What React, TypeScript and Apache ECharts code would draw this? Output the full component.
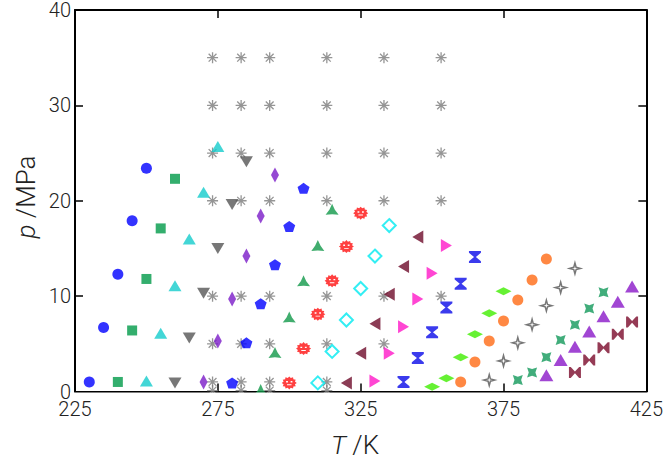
import React, { useEffect, useRef } from "react";
import * as echarts from "echarts";

// ---------- data (T in K, p in MPa) ----------
const xTicks = [225, 275, 325, 375, 425];
const yTicks = [0, 10, 20, 30, 40];

const astT = [273.15, 283.15, 293.15, 313.15, 333.15, 353.15];
const astP273 = [0.1, 1, 5, 10, 20, 25, 30, 35];
const astP283 = [0.1, 1, 5, 10, 20, 25, 30, 35];
const astP293 = [0.1, 1, 5, 10, 20, 25, 30, 35];
const astP313 = [0.1, 1, 5, 10, 20, 25, 30, 35];
const astP333 = [5, 10, 20, 25, 30, 35];
const astP353 = [10, 20, 25, 30, 35];

const blueCircleT = [230, 235, 240, 245, 250];
const blueCircleP = [1.0, 6.7, 12.3, 17.9, 23.4];
const greenSquareT = [240, 245, 250, 255, 260];
const greenSquareP = [1.0, 6.4, 11.8, 17.1, 22.3];
const cyanTriT = [250, 255, 260, 265, 270, 275];
const cyanTriP = [1.1, 6.1, 11.1, 16.0, 20.9, 25.7];
const grayDownT = [260, 265, 270, 275, 280, 285];
const grayDownP = [0.9, 5.6, 10.3, 15.0, 19.6, 24.1];
const purpleDiamondT = [270, 275, 280, 285, 290, 295];
const purpleDiamondP = [1.0, 5.3, 9.7, 14.2, 18.4, 22.7];
const bluePentT = [280, 285, 290, 295, 300, 305];
const bluePentP = [0.9, 5.1, 9.2, 13.3, 17.3, 21.3];
const greenTriT = [290, 295, 300, 305, 310, 315];
const greenTriP = [0.2, 4.1, 7.8, 11.6, 15.3, 19.1];
const redSunT = [300, 305, 310, 315, 320, 325];
const redSunP = [0.9, 4.5, 8.1, 11.6, 15.2, 18.7];
const cyanHollowT = [310, 315, 320, 325, 330, 335];
const cyanHollowP = [0.9, 4.2, 7.5, 10.8, 14.2, 17.4];
const maroonLeftT = [320, 325, 330, 335, 340, 345];
const maroonLeftP = [0.9, 4.0, 7.1, 10.2, 13.1, 16.2];
const magentaRightT = [330, 335, 340, 345, 350, 355];
const magentaRightP = [1.1, 4.0, 6.8, 9.7, 12.4, 15.3];
const blueHourT = [340, 345, 350, 355, 360, 365];
const blueHourP = [1.0, 3.5, 6.2, 8.8, 11.3, 14.1];
const limeDiamondT = [350, 355, 360, 365, 370, 375];
const limeDiamondP = [0.5, 1.4, 3.6, 6.0, 8.2, 10.5];
const orangeCircleT = [360, 365, 370, 375, 380, 385, 390];
const orangeCircleP = [1.0, 3.1, 5.3, 7.4, 9.6, 11.7, 13.9];
const grayStarT = [370, 375, 380, 385, 390, 395, 400];
const grayStarP = [1.2, 3.2, 5.1, 7.0, 9.0, 10.9, 12.9];
const greenStarT = [380, 385, 390, 395, 400, 405, 410];
const greenStarP = [1.2, 2.0, 3.6, 5.4, 7.0, 8.7, 10.4];
const purpleTriT = [390, 395, 400, 405, 410, 415, 420];
const purpleTriP = [1.7, 3.3, 4.7, 6.3, 7.9, 9.4, 11.0];
const maroonBowT = [400, 405, 410, 415, 420];
const maroonBowP = [2.0, 3.3, 4.6, 6.0, 7.3];

// ---------- marker shapes ----------
function starPath(n: number, rOut: number, rIn: number, start: number) {
  let d = "";
  for (let i = 0; i < 2 * n; i++) {
    const r = i % 2 === 0 ? rOut : rIn;
    const a = start + (i * Math.PI) / n;
    d += (i === 0 ? "M" : "L") + (r * Math.cos(a)).toFixed(3) + "," + (r * Math.sin(a)).toFixed(3);
  }
  return d + "Z";
}
function holeRect(x0: number, y0: number, x1: number, y1: number) {
  return `M${x0},${y0}L${x0},${y1}L${x1},${y1}L${x1},${y0}Z`;
}
const SYM_DOWN = "path://M0,0L2,0L1,1.7Z";
const SYM_LEFT = "path://M0,1L1.7,0L1.7,2Z";
const SYM_RIGHT = "path://M0,0L1.7,1L0,2Z";
const SYM_PENT = "path://" + starPath(5, 1, 0.809, -Math.PI / 2);
const SYM_TRI3 = "path://" + starPath(3, 1, 0.42, -Math.PI / 2);
const SYM_SUN =
  "path://" +
  starPath(12, 1, 0.78, -Math.PI / 2) +
  holeRect(-0.42, -0.3, -0.18, -0.08) +
  holeRect(0.18, -0.3, 0.42, -0.08) +
  holeRect(-0.3, 0.22, 0.3, 0.36);
const SYM_HOUR = "path://M0,0L2,0L2,0.3L1.15,1L2,1.7L2,2L0,2L0,1.7L0.85,1L0,0.3Z";
const SYM_BOW = "path://M0,0L0.3,0L1,0.85L1.7,0L2,0L2,2L1.7,2L1,1.15L0.3,2L0,2Z";
const SYM_STAR4 = "path://" + starPath(4, 1, 0.3, -Math.PI / 2);
const SYM_XSTAR = "path://" + starPath(4, 1, 0.47, -Math.PI * 0.75);
const SYM_AST = "path://M0,-1L0,1M-1,0L1,0M-0.71,-0.71L0.71,0.71M-0.71,0.71L0.71,-0.71";

const FONT = "Roboto, 'Liberation Sans', Arial, sans-serif";

function zip(t: number[], p: number[]) {
  return t.map((v, i) => [v, p[i]]);
}

function sc(name: string, data: number[][], symbol: string, size: number | number[], itemStyle: any) {
  return {
    type: "scatter",
    name,
    data,
    symbol,
    symbolSize: size,
    itemStyle,
    emphasis: { disabled: true },
    z: 3,
  };
}

export default function App() {
  const ref = useRef<HTMLDivElement>(null);
  useEffect(() => {
    document.body.style.margin = "0";
    if (!ref.current) return;
    const chart = echarts.init(ref.current, undefined, { renderer: "svg" });

    const astData: number[][] = [
      ...astP273.map((p) => [astT[0], p]),
      ...astP283.map((p) => [astT[1], p]),
      ...astP293.map((p) => [astT[2], p]),
      ...astP313.map((p) => [astT[3], p]),
      ...astP333.map((p) => [astT[4], p]),
      ...astP353.map((p) => [astT[5], p]),
    ];

    const axisLine = { show: true, onZero: false, lineStyle: { color: "#000", width: 2 } };
    const axisTick = { show: true, inside: true, length: 8, lineStyle: { color: "#000", width: 1.5 } };
    const label = { fontSize: 20, color: "#222", fontFamily: FONT, fontWeight: 300 };

    const option: any = {
      animation: false,
      backgroundColor: "#fff",
      grid: { left: 75, right: 17, top: 9.5, bottom: 68.5, containLabel: false },
      xAxis: [
        {
          type: "value", min: xTicks[0], max: xTicks[xTicks.length - 1], interval: xTicks[1] - xTicks[0],
          position: "bottom", axisLine, axisTick, splitLine: { show: false },
          axisLabel: { ...label, margin: 7 },
        },
        {
          type: "value", min: xTicks[0], max: xTicks[xTicks.length - 1], interval: xTicks[1] - xTicks[0],
          position: "top", axisLine, axisTick, splitLine: { show: false }, axisLabel: { show: false },
        },
      ],
      yAxis: [
        {
          type: "value", min: yTicks[0], max: yTicks[yTicks.length - 1], interval: yTicks[1] - yTicks[0],
          position: "left", axisLine, axisTick, splitLine: { show: false },
          axisLabel: { ...label, margin: 4 },
        },
        {
          type: "value", min: yTicks[0], max: yTicks[yTicks.length - 1], interval: yTicks[1] - yTicks[0],
          position: "right", axisLine, axisTick, splitLine: { show: false }, axisLabel: { show: false },
        },
      ],
      series: [
        sc("ast", astData, SYM_AST, 11, { color: "rgba(0,0,0,0)", borderColor: "#7a7a7a", borderWidth: 1.3 }),
        sc("blueCircle", zip(blueCircleT, blueCircleP), "circle", 11, { color: "#0000ff" }),
        sc("greenSquare", zip(greenSquareT, greenSquareP), "rect", 10, { color: "#009a48" }),
        sc("cyanTri", zip(cyanTriT, cyanTriP), "triangle", [13, 11], { color: "#14cccc" }),
        sc("grayDown", zip(grayDownT, grayDownP), SYM_DOWN, [13, 11], { color: "#555555" }),
        sc("purpleDiamond", zip(purpleDiamondT, purpleDiamondP), "diamond", [8, 15], { color: "#7a1cc8" }),
        sc("bluePent", zip(bluePentT, bluePentP), SYM_PENT, [12, 11], { color: "#0000ff" }),
        sc("greenTri", zip(greenTriT, greenTriP), SYM_TRI3, [13, 11], { color: "#11994a" }),
        sc("redSun", zip(redSunT, redSunP), SYM_SUN, [15, 13], { color: "#ff1010" }),
        sc("cyanHollow", zip(cyanHollowT, cyanHollowP), "diamond", 13, { color: "rgba(0,0,0,0)", borderColor: "#00eaf0", borderWidth: 2 }),
        sc("maroonLeft", zip(maroonLeftT, maroonLeftP), SYM_LEFT, [11, 13], { color: "#6e0b2b" }),
        sc("magentaRight", zip(magentaRightT, magentaRightP), SYM_RIGHT, [11, 13], { color: "#ff18c8" }),
        sc("blueHour", zip(blueHourT, blueHourP), SYM_HOUR, [12, 12], { color: "#0a0ae8" }),
        sc("limeDiamond", zip(limeDiamondT, limeDiamondP), "diamond", [16, 8], { color: "#40ee00" }),
        sc("orangeCircle", zip(orangeCircleT, orangeCircleP), "circle", 11, { color: "#ff6a14" }),
        sc("grayStar", zip(grayStarT, grayStarP), SYM_STAR4, 11, { color: "rgba(0,0,0,0)", borderColor: "#555555", borderWidth: 1.5 }),
        sc("greenStar", zip(greenStarT, greenStarP), SYM_XSTAR, 10, { color: "#11995a" }),
        sc("purpleTri", zip(purpleTriT, purpleTriP), "triangle", [14, 12], { color: "#8a18c8" }),
        sc("maroonBow", zip(maroonBowT, maroonBowP), SYM_BOW, [12, 11], { color: "#7a0a2a" }),
      ],
      graphic: [
        { type: "rect", z: 100, shape: { x: 70, y: 392.6, width: 585, height: 5 }, style: { fill: "#fff" } },
        {
          type: "text", z: 100, x: 355, y: 445,
          style: {
            text: "{i|T} /K",
            fontSize: 26, fontFamily: FONT, fontWeight: 300, fill: "#222",
            align: "center", verticalAlign: "middle",
            rich: { i: { fontStyle: "italic", fontSize: 26, fontFamily: FONT, fontWeight: 300, fill: "#222" } },
          },
        },
        {
          type: "text", z: 100, x: 26, y: 197, rotation: Math.PI / 2,
          style: {
            text: "{i|p} /MPa",
            fontSize: 26, fontFamily: FONT, fontWeight: 300, fill: "#222",
            align: "center", verticalAlign: "middle",
            rich: { i: { fontStyle: "italic", fontSize: 26, fontFamily: FONT, fontWeight: 300, fill: "#222" } },
          },
        },
      ],
    };
    chart.setOption(option);
    return () => chart.dispose();
  }, []);
  return <div ref={ref} style={{ width: 666, height: 460 }} />;
}
